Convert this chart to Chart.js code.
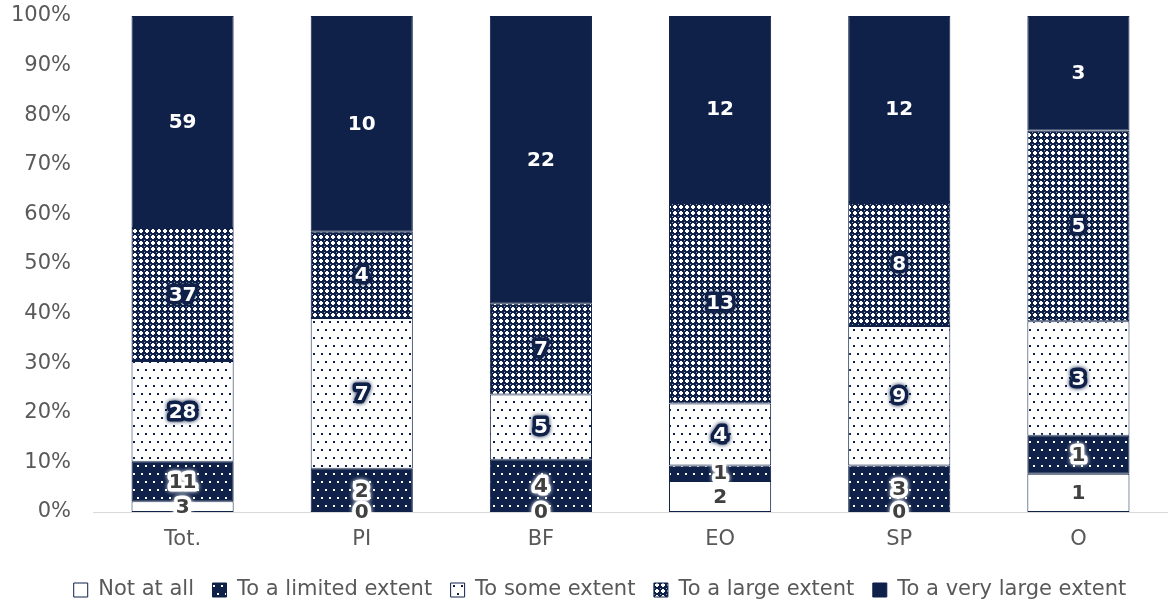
<!DOCTYPE html>
<html>
<head>
<meta charset="utf-8">
<script src="https://cdn.jsdelivr.net/npm/chart.js@4.4.0/dist/chart.umd.min.js"></script>
<style>
  html, body { margin: 0; padding: 0; background: #fff; }
  #wrap { width: 1168px; height: 605px; }
</style>
</head>
<body>
<div id="wrap"><canvas id="chart" width="1168" height="605"></canvas></div>
<script>
// categories and counts per answer
var categories = ['Tot.', 'PI', 'BF', 'EO', 'SP', 'O'];
var seriesNames = ['Not at all', 'To a limited extent', 'To some extent', 'To a large extent', 'To a very large extent'];
var notAtAll     = [3, 0, 0, 2, 0, 1];
var limited      = [11, 2, 4, 1, 3, 1];
var someExtent   = [28, 7, 5, 4, 9, 3];
var largeExtent  = [37, 4, 7, 13, 8, 5];
var veryLarge    = [59, 10, 22, 12, 12, 3];
var yTicks = [0, 10, 20, 30, 40, 50, 60, 70, 80, 90, 100];

var NAVY = '#0f2148';
var counts = [notAtAll, limited, someExtent, largeExtent, veryLarge];

// totals per category -> shares in %
var totals = categories.map(function(c, i) {
  return counts.reduce(function(s, arr) { return s + arr[i]; }, 0);
});

function makePattern(size, bg, drawFn) {
  var c = document.createElement('canvas');
  c.width = size; c.height = size;
  var g = c.getContext('2d');
  g.fillStyle = bg;
  g.fillRect(0, 0, size, size);
  drawFn(g);
  return g.createPattern(c, 'repeat');
}

var ctx = document.getElementById('chart').getContext('2d');

// sparse dots
var dotsWhite = makePattern(16, NAVY, function(g) {
  g.fillStyle = '#ffffff';
  g.fillRect(1, 1, 2, 2); g.fillRect(9, 1, 2, 2);
  g.fillRect(5, 9, 2, 2); g.fillRect(13, 9, 2, 2);
});
var dotsNavy = makePattern(16, '#ffffff', function(g) {
  g.fillStyle = NAVY;
  g.fillRect(1, 1, 2, 2); g.fillRect(9, 1, 2, 2);
  g.fillRect(5, 9, 2, 2); g.fillRect(13, 9, 2, 2);
});
// plus-shaped lattice
var lattice = makePattern(6, NAVY, function(g) {
  g.fillStyle = '#ffffff';
  g.fillRect(2, 1, 2, 4);
  g.fillRect(1, 2, 4, 2);
  g.fillStyle = '#9aa2b8';
  g.fillRect(0, 0, 1, 1);
});

var fills = ['#ffffff', dotsWhite, dotsNavy, lattice, NAVY];
// label text colour and halo colour per series
var labelInk  = ['#404040', '#404040', '#ffffff', '#ffffff', '#ffffff'];
var labelHalo = ['#ffffff', '#ffffff', NAVY, NAVY, null];

var datasets = counts.map(function(arr, k) {
  return {
    label: seriesNames[k],
    data: arr.map(function(v, i) { return v / totals[i] * 100; }),
    counts: arr,
    backgroundColor: fills[k],
    borderColor: NAVY,
    borderWidth: 1,
    borderSkipped: false,
    barPercentage: 0.57,
    categoryPercentage: 1.0
  };
});

var FONT = "'DejaVu Sans'";

var countLabels = {
  id: 'countLabels',
  // legend sits a bit right of the canvas centre in the original
  afterLayout: function(chart) {
    if (chart.legend) chart.legend.left += 32;
  },
  afterDatasetsDraw: function(chart) {
    var c = chart.ctx;
    c.save();
    c.font = 'bold 20px ' + FONT;
    c.textAlign = 'center';
    c.textBaseline = 'middle';
    c.lineJoin = 'round';
    chart.data.datasets.forEach(function(ds, k) {
      var meta = chart.getDatasetMeta(k);
      meta.data.forEach(function(bar, i) {
        var txt = String(ds.counts[i]);
        var cy = (bar.y + bar.base) / 2 + 1;
        if (labelHalo[k]) {
          c.strokeStyle = labelHalo[k];
          c.lineWidth = 7;
          c.shadowColor = labelHalo[k];
          c.shadowBlur = 4;
          c.strokeText(txt, bar.x, cy);
          c.shadowBlur = 0;
        }
        c.fillStyle = labelInk[k];
        c.fillText(txt, bar.x, cy);
      });
    });
    c.restore();
  }
};

new Chart(ctx, {
  type: 'bar',
  data: { labels: categories, datasets: datasets },
  options: {
    responsive: false,
    animation: false,
    layout: { padding: { top: 16, right: 0, left: 0, bottom: 0 } },
    plugins: {
      tooltip: { enabled: false },
      legend: {
        position: 'bottom',
        maxHeight: 44,
        labels: {
          font: { family: FONT, size: 21 },
          color: '#595959',
          boxWidth: 14,
          boxHeight: 14,
          padding: 18.5,
          generateLabels: function(chart) {
            return chart.data.datasets.map(function(ds, k) {
              return {
                text: ds.label,
                fillStyle: fills[k],
                strokeStyle: NAVY,
                lineWidth: 1,
                fontColor: '#595959',
                datasetIndex: k
              };
            });
          }
        }
      }
    },
    scales: {
      x: {
        stacked: true,
        grid: { display: false },
        border: { display: true, color: '#d9d9d9', width: 1 },
        afterFit: function(scale) { scale.height = 49; },
        ticks: { font: { family: FONT, size: 21 }, color: '#595959', padding: 7 }
      },
      y: {
        stacked: true,
        min: 0,
        max: 100,
        afterBuildTicks: function(scale) {
          scale.ticks = yTicks.map(function(v) { return { value: v }; });
        },
        afterFit: function(scale) {
          scale.width = 93;
          scale.paddingTop = 0;
          scale.paddingBottom = 0;
        },
        grid: { display: false },
        border: { display: false },
        ticks: {
          font: { family: FONT, size: 21 },
          color: '#595959',
          padding: 14,
          callback: function(v) { return v + '%'; }
        }
      }
    }
  },
  plugins: [countLabels]
});
</script>
</body>
</html>
